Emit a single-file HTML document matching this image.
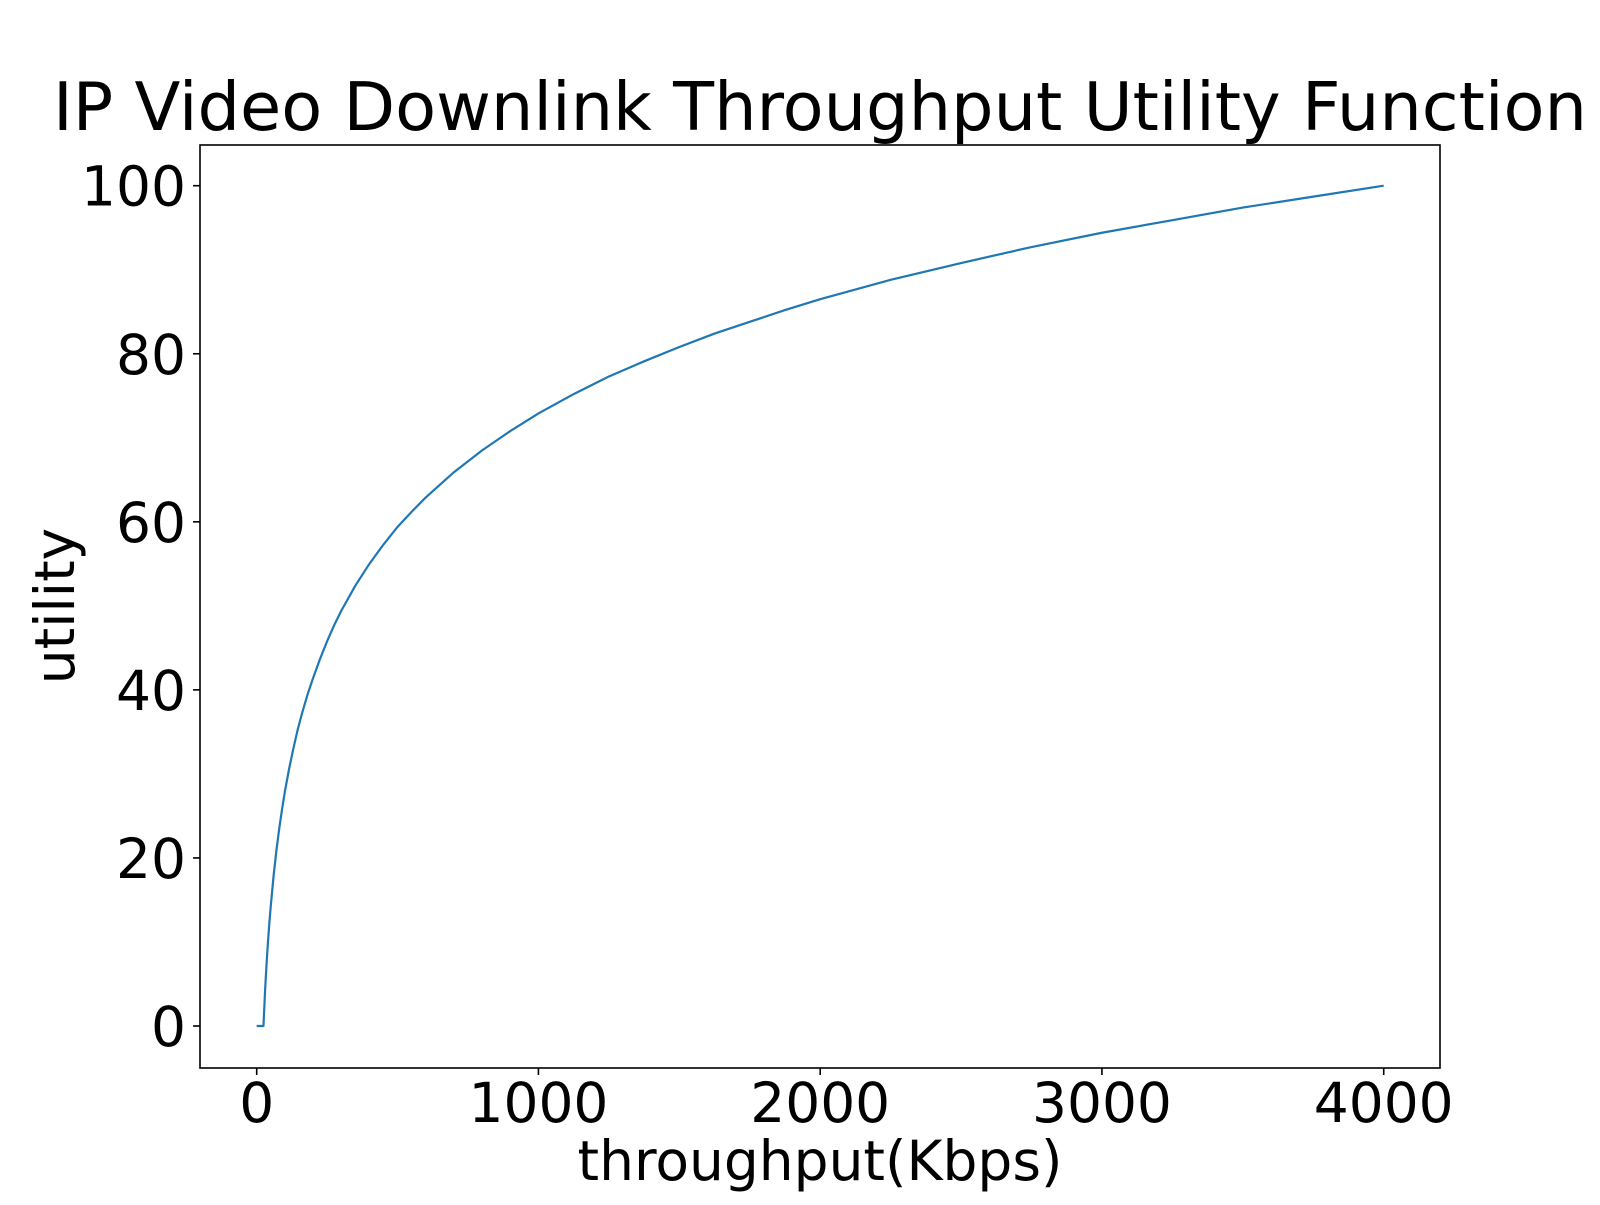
<!DOCTYPE html>
<html><head><meta charset="utf-8"><style>
html,body{margin:0;padding:0;background:#fff;}
svg text{font-family:"DejaVu Sans","Liberation Sans",sans-serif;fill:#000;}
</style></head><body>
<svg id="chart" width="1600" height="1200" xmlns="http://www.w3.org/2000/svg">
<text x="820" y="130" font-size="67" text-anchor="middle">IP Video Downlink Throughput Utility Function</text>
<rect x="200" y="145" width="1240" height="923" fill="none" stroke="#000" stroke-width="1.6"/>
<g id="xt"></g><g id="yt"></g>
<path id="line" fill="none" stroke="#1f77b4" stroke-width="2.2" stroke-linejoin="round"/>
<text x="820" y="1180" font-size="55" text-anchor="middle">throughput(Kbps)</text>
<text transform="translate(74,606) rotate(-90)" font-size="55" text-anchor="middle">utility</text>
</svg>
<script>
const throughput=[0,24,30,35,40,45,50,60,70,80,90,100,115,130,145,160,180,200,225,250,275,300,350,400,450,500,550,600,700,800,900,1000,1125,1250,1375,1500,1625,1750,1875,2000,2250,2500,2750,3000,3250,3500,3750,4000];
const utility=[0,0,4.4,7.4,10.0,12.3,14.3,17.9,20.9,23.5,25.8,27.9,30.6,33.0,35.2,37.1,39.4,41.4,43.7,45.8,47.7,49.4,52.4,55.0,57.3,59.4,61.2,62.9,65.9,68.5,70.8,72.9,75.2,77.3,79.1,80.8,82.4,83.8,85.2,86.5,88.8,90.8,92.7,94.4,95.9,97.4,98.7,100];
const xTicks=[0,1000,2000,3000,4000];
const yTicks=[0,20,40,60,80,100];
function sx(v){return 256.7+(v/4000)*(1383.7-256.7);}
function sy(v){return 1026-(v/100)*(1026-185.7);}
const NS="http://www.w3.org/2000/svg";
let d="";throughput.forEach((x,i)=>{d+=(i?"L":"M")+sx(x).toFixed(2)+","+sy(utility[i]).toFixed(2);});
document.getElementById("line").setAttribute("d",d);
const xt=document.getElementById("xt"),yt=document.getElementById("yt");
xTicks.forEach(t=>{
 const l=document.createElementNS(NS,"line");
 
 
 l.setAttribute("x1",sx(t));l.setAttribute("x2",sx(t));l.setAttribute("y1",1068);l.setAttribute("y2",1075);l.setAttribute("stroke","#000");l.setAttribute("stroke-width","1.6");xt.appendChild(l);
 const s=document.createElementNS(NS,"text");
 
 
 s.setAttribute("x",sx(t));s.setAttribute("y",1122);s.setAttribute("font-size","55");s.setAttribute("text-anchor","middle");s.textContent=t;xt.appendChild(s);
});
yTicks.forEach(t=>{
 const l=document.createElementNS(NS,"line");
 
 
 l.setAttribute("x1",193);l.setAttribute("x2",200);l.setAttribute("y1",sy(t));l.setAttribute("y2",sy(t));l.setAttribute("stroke","#000");l.setAttribute("stroke-width","1.6");yt.appendChild(l);
 const s=document.createElementNS(NS,"text");
 
 
 s.setAttribute("x",186);s.setAttribute("y",sy(t)+20);s.setAttribute("font-size","55");s.setAttribute("text-anchor","end");s.textContent=t;yt.appendChild(s);
});
</script>
</body></html>
